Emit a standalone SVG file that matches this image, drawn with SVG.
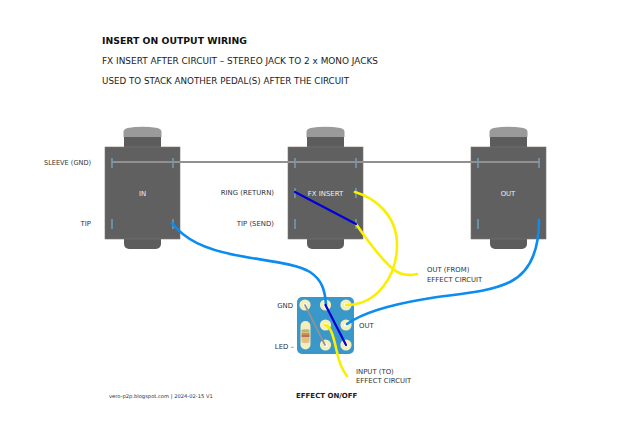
<svg xmlns="http://www.w3.org/2000/svg" width="640" height="440" viewBox="0 0 640 440">
<style>
text{font-family:"DejaVu Sans","Liberation Sans",sans-serif;font-size:6.9px;fill:#333}
.h{font-size:9.2px;font-weight:bold;fill:#111}
.s{font-size:8.8px;fill:#222}
.w{fill:#eee;text-anchor:middle}
.e{text-anchor:end}
.body{fill:#606060;stroke:#777;stroke-width:.6}
.cap{fill:#9a9a9a}
.neck{fill:#5c5c5c}
.pin{stroke:#6b9cb8;stroke-width:1.6;fill:none}
.wire{fill:none;stroke-linecap:round}
.bl{stroke:#0a8cf0;stroke-width:2.6}
.ye{stroke:#f8f000;stroke-width:2.6}
.db{stroke:#0000d8;stroke-width:2.200}
.gr{stroke:#919191;stroke-width:1.900}
.pad{fill:#f5eebb}
.hole{fill:#fff}
</style>
<defs>
<g id="jack">
<path class="neck" d="M19 91h37v6a5 5 0 0 1-5 5h-27a5 5 0 0 1-5-5z"/>
<rect class="neck" x="19" y="-11" width="37" height="12"/>
<path class="cap" d="M18.500 -10v-5q0-3 4-4q15-2.500 30 0q4 1 4 4v5z"/>
<rect class="body" x="0" y="0" width="75" height="92"/>
<path class="pin" d="M7 11v10M68 11v10M7 72v10M68 72v10"/>
</g>
<g id="pd"><circle class="pad" r="5.600"/><circle class="hole" r="2"/></g>
</defs>
<g id="title">
<text class="h" x="102" y="44" textLength="145" lengthAdjust="spacingAndGlyphs">INSERT ON OUTPUT WIRING</text>
<text class="s" x="102" y="64" textLength="276" lengthAdjust="spacingAndGlyphs">FX INSERT AFTER CIRCUIT – STEREO JACK TO 2 x MONO JACKS</text>
<text class="s" x="102" y="84" textLength="247" lengthAdjust="spacingAndGlyphs">USED TO STACK ANOTHER PEDAL(S) AFTER THE CIRCUIT</text>
</g>
<g id="jack-in"><use href="#jack" x="105" y="147"/><text class="w" x="142.500" y="196">IN</text></g>
<g id="jack-fx"><use href="#jack" x="288" y="147"/><path class="pin" d="M295 188v10M356 188v10"/><text class="w" x="325.500" y="196">FX INSERT</text></g>
<g id="jack-out"><use href="#jack" x="471" y="147"/><text class="w" x="508" y="196">OUT</text></g>
<g id="board">
<rect x="297" y="297" width="57" height="57" rx="5" fill="#3a97c9"/>
<use href="#pd" x="305" y="305"/><use href="#pd" x="325.500" y="305"/><use href="#pd" x="346" y="305"/>
<use href="#pd" x="325.500" y="325"/><use href="#pd" x="346" y="325"/>
<use href="#pd" x="325.500" y="345"/><use href="#pd" x="346" y="345"/>
<rect x="300.500" y="321" width="10" height="28.500" rx="5" fill="#f5eebb"/>
<rect x="301.500" y="329" width="8" height="14" rx="2" fill="#e3bf85"/>
<path d="M301.500 331h8" stroke="#7fb56a" stroke-width="1"/><path d="M301.500 334h8" stroke="#b5651d" stroke-width="1"/><path d="M301.500 336h8" stroke="#8a2a1a" stroke-width="1"/>
</g>
<g id="connectors">
<path class="wire gr" d="M112 162H539"/>
<path class="wire gr" style="stroke-width:1.700" d="M305 305L325 345"/>
<path class="wire bl" d="M172 223C185 240 205 249 235 255C265 261 295 263 310 272C322 280 325 290 326 305"/>
<path class="wire bl" d="M539 220C539 250 530 272 510 282C485 294 450 294 425 299C395 304 365 311 347 324"/>
<path class="wire ye" d="M355 192C375 198 397 215 397 245C397 275 378 305 346 305"/>
<path class="wire ye" d="M356 224C365 237 380 258 393 269C400 275 408 276 417 274"/>
<path class="wire ye" d="M325 325C332 327 334 340 337 352C339 362 342 370 347 376"/>
<path class="wire db" d="M295 192L356 224"/>
<path class="wire db" d="M325.500 305L346 345"/>
</g>
<g id="labels">
<text class="e" x="91" y="165" textLength="47" lengthAdjust="spacingAndGlyphs">SLEEVE (GND)</text>
<text class="e" x="91" y="226">TIP</text>
<text class="e" x="274" y="195">RING (RETURN)</text>
<text class="e" x="274" y="226">TIP (SEND)</text>
<text x="427" y="272">OUT (FROM)</text>
<text x="427" y="281.500">EFFECT CIRCUIT</text>
<text class="e" x="293" y="308">GND</text>
<text x="359" y="328">OUT</text>
<text class="e" x="294" y="349">LED –</text>
<text x="356" y="374">INPUT (TO)</text>
<text x="356" y="383">EFFECT CIRCUIT</text>
<text x="109" y="398" style="font-size:5.200px">vero-p2p.blogspot.com  |  2024-02-15 V1</text>
<text x="296" y="398" style="font-size:7px;font-weight:bold;fill:#222">EFFECT ON/OFF</text>
</g>
</svg>
